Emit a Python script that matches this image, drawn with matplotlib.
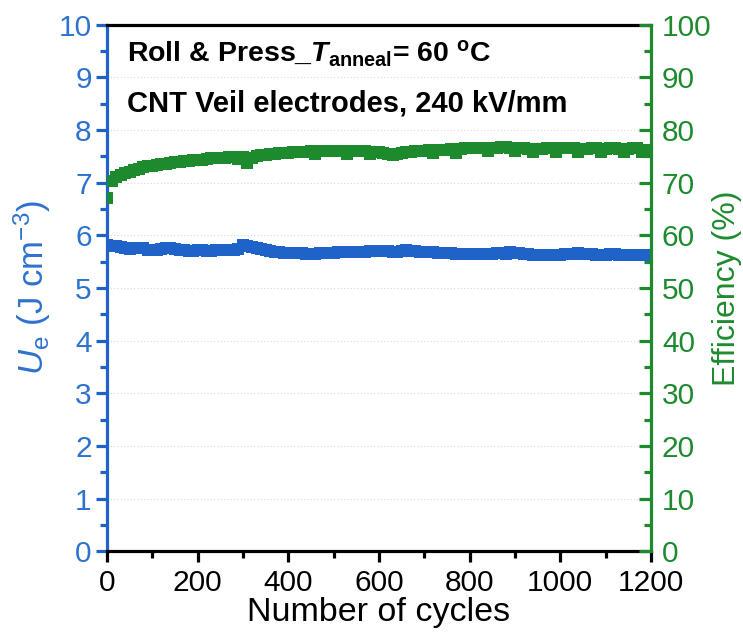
import numpy as np
import matplotlib
matplotlib.use("Agg")
import matplotlib.pyplot as plt
from matplotlib.ticker import MultipleLocator

plt.rcParams['font.family'] = ['Liberation Sans', 'DejaVu Sans']
plt.rcParams['mathtext.fontset'] = 'custom'
plt.rcParams['mathtext.rm'] = 'Liberation Sans:bold'
plt.rcParams['mathtext.bf'] = 'Liberation Sans:bold'
plt.rcParams['mathtext.it'] = 'Liberation Sans:italic:bold'
plt.rcParams['mathtext.sf'] = 'Liberation Sans'
plt.rcParams['mathtext.tt'] = 'Liberation Sans:italic'

# cycle number (every 10 cycles)
cycles = list(range(0, 1201, 10))

# recoverable energy density U_e (J cm^-3)
energy_density = [
    5.82, 5.80, 5.79, 5.78, 5.76, 5.74, 5.75, 5.76, 5.75, 5.73,
    5.72, 5.73, 5.74, 5.75, 5.75, 5.74, 5.73, 5.72, 5.71, 5.71,
    5.72, 5.72, 5.71, 5.71, 5.72, 5.72, 5.72, 5.73, 5.73, 5.74,
    5.82, 5.80, 5.78, 5.76, 5.74, 5.72, 5.71, 5.69, 5.68, 5.67,
    5.67, 5.66, 5.66, 5.66, 5.65, 5.65, 5.65, 5.66, 5.66, 5.67,
    5.67, 5.68, 5.68, 5.69, 5.69, 5.68, 5.68, 5.69, 5.70, 5.71,
    5.71, 5.70, 5.70, 5.69, 5.69, 5.71, 5.73, 5.71, 5.70, 5.69,
    5.69, 5.68, 5.68, 5.67, 5.67, 5.66, 5.66, 5.65, 5.65, 5.65,
    5.64, 5.64, 5.64, 5.65, 5.65, 5.65, 5.66, 5.66, 5.65, 5.69,
    5.67, 5.66, 5.65, 5.64, 5.63, 5.63, 5.63, 5.62, 5.62, 5.63,
    5.63, 5.64, 5.64, 5.65, 5.66, 5.65, 5.64, 5.64, 5.63, 5.63,
    5.63, 5.64, 5.64, 5.63, 5.63, 5.62, 5.62, 5.63, 5.63, 5.62,
    5.61,
]

# charge-discharge efficiency (%)
efficiency = [
    67.0, 70.4, 71.0, 71.4, 71.8, 72.1, 72.4, 72.6, 72.9, 73.1,
    73.2, 73.4, 73.5, 73.6, 73.8, 73.9, 74.0, 74.1, 74.2, 74.3,
    74.4, 74.4, 74.5, 74.6, 74.6, 74.7, 74.7, 74.8, 74.8, 74.5,
    74.9, 73.8, 74.6, 75.0, 75.2, 75.3, 75.4, 75.5, 75.6, 75.7,
    75.7, 75.8, 75.8, 75.9, 75.9, 76.0, 75.4, 76.0, 76.0, 76.1,
    76.0, 76.0, 76.1, 75.4, 76.0, 76.0, 76.1, 76.0, 75.4, 75.9,
    75.8, 75.6, 75.4, 75.3, 75.5, 75.7, 75.8, 75.9, 76.0, 76.1,
    76.1, 76.2, 75.6, 76.2, 76.3, 76.3, 76.4, 75.7, 76.4, 76.5,
    76.5, 76.5, 76.6, 76.6, 76.0, 76.6, 76.6, 76.7, 76.7, 76.6,
    76.0, 76.5, 76.5, 76.4, 75.8, 76.4, 76.4, 76.5, 76.5, 75.9,
    76.5, 76.6, 76.5, 76.5, 75.9, 76.4, 76.4, 76.5, 76.5, 75.8,
    76.4, 76.5, 76.5, 76.4, 75.9, 76.4, 76.5, 76.5, 75.8, 76.3,
    76.3,
]

x_ticks = [0, 200, 400, 600, 800, 1000, 1200]

BLUE = '#1F63C9'
BLUE_TXT = '#2E72CF'
GREEN = '#1E8A2E'
GRID = '#d9d9d9'

fig = plt.figure(figsize=(7.43, 6.35), dpi=100)
ax = fig.add_axes([0.144, 0.132, 0.732, 0.829])
ax2 = ax.twinx()

ax.plot(cycles, energy_density, linestyle='none', marker='s', markersize=9,
        color=BLUE, markeredgewidth=0, zorder=3)
ax2.plot(cycles, efficiency, linestyle='none', marker='s', markersize=9,
         color=GREEN, markeredgewidth=0, zorder=3)

ax.set_xlim(0, 1200)
ax.set_ylim(0, 10)
ax2.set_ylim(0, 100)
ax.set_xticks(x_ticks)
ax.xaxis.set_minor_locator(MultipleLocator(100))
ax.yaxis.set_major_locator(MultipleLocator(1))
ax.yaxis.set_minor_locator(MultipleLocator(0.5))
ax2.yaxis.set_major_locator(MultipleLocator(10))
ax2.yaxis.set_minor_locator(MultipleLocator(5))

# faint dotted grid at each major level
ax.yaxis.grid(True, which='major', linestyle=(0, (1, 2)), color=GRID, linewidth=0.8)
ax.set_axisbelow(True)

lw = 2.3
for side in ['top', 'bottom']:
    ax.spines[side].set_linewidth(lw)
    ax.spines[side].set_color('black')
ax.spines['left'].set_linewidth(lw)
ax.spines['left'].set_color(BLUE)
ax2.spines['left'].set_visible(False)
ax2.spines['right'].set_linewidth(lw)
ax2.spines['right'].set_color(GREEN)
ax2.spines['top'].set_visible(False)
ax2.spines['bottom'].set_visible(False)
ax.spines['right'].set_visible(False)

TICK_FS = 21.5
ax.tick_params(axis='x', which='major', direction='out', length=8, width=2.3,
               color='black', labelsize=TICK_FS, pad=5, top=False)
ax.tick_params(axis='x', which='minor', direction='out', length=5, width=2.3,
               color='black', top=False)
ax.tick_params(axis='y', which='major', direction='out', length=8, width=2.3,
               color=BLUE, labelcolor=BLUE_TXT, labelsize=TICK_FS, pad=3)
ax.tick_params(axis='y', which='minor', direction='out', length=5, width=2.3,
               color=BLUE)
ax2.tick_params(axis='y', which='major', direction='in', length=9, width=2.3,
                color=GREEN, labelcolor=GREEN, labelsize=TICK_FS, pad=8)
ax2.tick_params(axis='y', which='minor', direction='in', length=5, width=2.3,
                color=GREEN)

ax.set_xlabel('Number of cycles', fontsize=24.5, labelpad=0)
ax.set_ylabel(r'$\mathtt{U}_{\mathsf{e}}$ (J cm$^{\mathsf{-3}}$)', fontsize=25,
              color=BLUE_TXT, labelpad=4)
ax2.set_ylabel('Efficiency (%)', fontsize=23, color=GREEN, labelpad=0)

ax.text(0.037, 0.930, r'Roll & Press_$T_{\mathrm{anneal}}$= 60 $^{\mathrm{o}}$C',
        transform=ax.transAxes, fontsize=20.5, fontweight='bold',
        va='baseline', ha='left', zorder=5)
ax.text(0.037, 0.835, 'CNT Veil electrodes, 240 kV/mm',
        transform=ax.transAxes, fontsize=21, fontweight='bold',
        va='baseline', ha='left', zorder=5)

fig.savefig('out.png', dpi=100)
